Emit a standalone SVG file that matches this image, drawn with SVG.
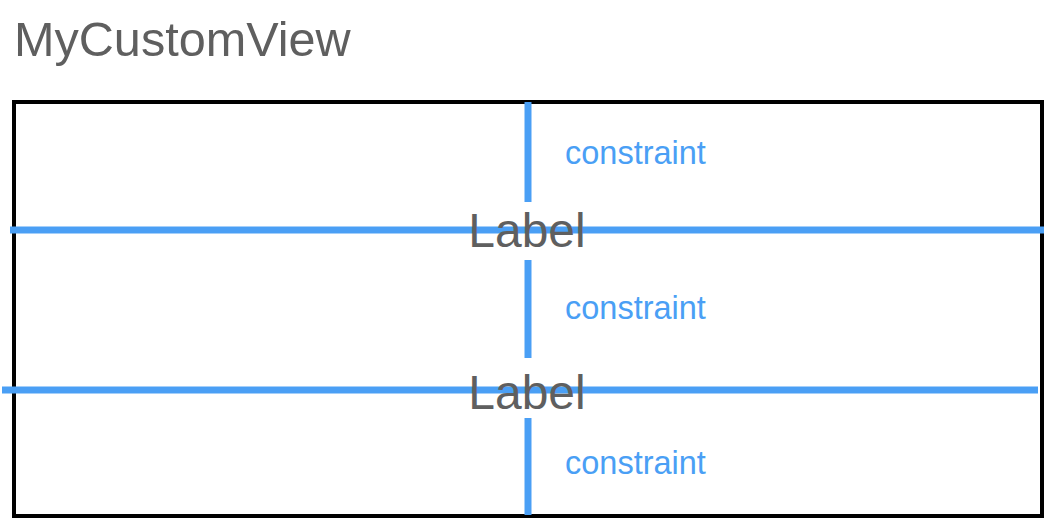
<svg xmlns="http://www.w3.org/2000/svg" width="1046" height="520" viewBox="0 0 1046 520">
<style>
.title{font-family:"Liberation Sans",Arial,sans-serif;font-size:48.6px;fill:#5f5f5f}
.lbl{font-family:"Liberation Sans",Arial,sans-serif;font-size:48px;fill:#5f5f5f;text-anchor:middle}
.con{font-family:"Liberation Sans",Arial,sans-serif;font-size:32.5px;fill:#4a9ff5}
.box{fill:none;stroke:#000;stroke-width:4}
.bl{stroke:#4a9ff5;stroke-width:7;fill:none}
</style>
<rect width="1046" height="520" fill="#fff"/>
<g id="title"><text class="title" x="14" y="56">MyCustomView</text></g>
<g id="view"><rect class="box" x="14" y="102" width="1028" height="414"/></g>
<g id="connectors">
<line class="bl" x1="528" y1="102" x2="528" y2="202"/>
<line class="bl" x1="528" y1="260" x2="528" y2="358"/>
<line class="bl" x1="528" y1="418" x2="528" y2="515"/>
<line class="bl" x1="10" y1="230" x2="1044" y2="230"/>
<line class="bl" x1="2" y1="390" x2="1038" y2="390"/>
</g>
<g id="label1"><text class="lbl" x="527" y="247">Label</text></g>
<g id="label2"><text class="lbl" x="527" y="409">Label</text></g>
<g id="constraint1"><text class="con" x="565" y="164">constraint</text></g>
<g id="constraint2"><text class="con" x="565" y="319">constraint</text></g>
<g id="constraint3"><text class="con" x="565" y="474">constraint</text></g>
</svg>
